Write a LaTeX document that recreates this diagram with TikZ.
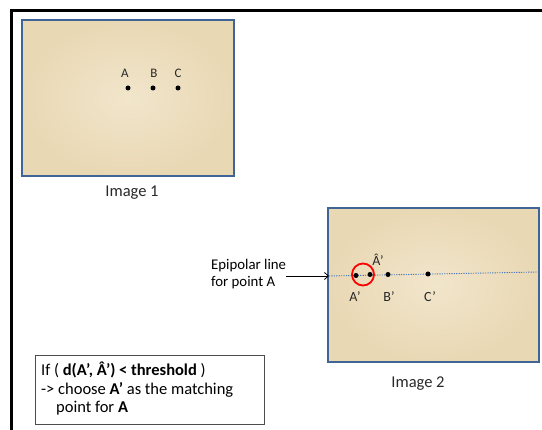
\documentclass[tikz,border=0pt]{standalone}
\usepackage{fontspec}
\setmainfont{Carlito}
\usetikzlibrary{arrows.meta}
\definecolor{parchlight}{RGB}{241,229,203}
\definecolor{parchdark}{RGB}{233,216,180}
\definecolor{frameblue}{RGB}{65,100,150}
\definecolor{lineblue}{RGB}{75,120,190}
\definecolor{txt}{RGB}{40,40,40}
\tikzset{
  photo/.style={draw=frameblue, line width=1.6pt, inner color=parchlight, outer color=parchdark},
  pt/.style={circle, fill=black, inner sep=0pt, minimum size=5pt},
  lbl/.style={font=\fontsize{13}{15}\selectfont, text=txt, inner sep=0pt},
  caption/.style={font=\fontsize{16.5}{19}\selectfont, text=txt, inner sep=0pt},
  note/.style={font=\fontsize{14.8}{17}\selectfont, text=black, inner sep=0pt, align=left},
}
\begin{document}
\begin{tikzpicture}[x=1pt,y=-1pt]
\useasboundingbox (0,0) rectangle (542,430);
% outer frame
\draw[line width=3pt] (11.5,431) -- (11.5,10.5) -- (543,10.5);

% first picture
\node[photo, minimum width=212pt, minimum height=156pt, inner sep=0pt] (img1) at (128,98) {};
\node[lbl] (la) at (125,73) {A};
\node[lbl] (lb) at (154,73) {B};
\node[lbl] (lc) at (178,73) {C};
\node[pt] (pa) at (128,88) {};
\node[pt] (pb) at (153,88) {};
\node[pt] (pc) at (178,88) {};
\node[caption] (cap1) at (132,193) {Image 1};

% second picture
\node[photo, minimum width=211pt, minimum height=154pt, inner sep=0pt] (img2) at (433.5,285) {};
\coordinate (epl) at (329,276);
\coordinate (epr) at (538,272);
\draw[lineblue, dash pattern=on 1.2pt off 1.2pt, line width=0.9pt] (epl) -- (epr);
\node[pt] (pa2) at (356,275.5) {};
\node[pt] (pah) at (370,274.5) {};
\node[pt] (pb2) at (388,274.5) {};
\node[pt] (pc2) at (428,274) {};
\node[draw=red, line width=1.8pt, circle, minimum size=22pt, inner sep=0pt] (ring) at (363,274.5) {};
\node[lbl, font=\fontsize{14}{16}\selectfont] (lah) at (378,260) {Â’};
\node[lbl, font=\fontsize{14}{16}\selectfont] (la2) at (355,297) {A’};
\node[lbl, font=\fontsize{14}{16}\selectfont] (lb2) at (389,297) {B’};
\node[lbl, font=\fontsize{14}{16}\selectfont] (lc2) at (430,297) {C’};
\node[caption] (cap2) at (418,384) {Image 2};

% epipolar line annotation
\node[note, anchor=west] (epi) at (211,274) {Epipolar line\\for point A};
\coordinate (arrs) at (286,276);
\draw[-{Straight Barb[length=4pt,width=7pt]}, line width=0.8pt] (arrs) -- (epl);

% decision rule
\node[draw=black!70, line width=0.8pt, minimum width=229pt, minimum height=69pt, inner sep=0pt] (rule) at (149.5,389.5) {};
\node[note, anchor=north west, font=\fontsize{16.5}{18.5}\selectfont] (ruletxt) at (41,362)
  {If ( \textbf{d(A’, Â’) < threshold} )\\
   -> choose \textbf{A’} as the matching\\
   \hspace*{15pt}point for \textbf{A}};
\end{tikzpicture}
\end{document}
